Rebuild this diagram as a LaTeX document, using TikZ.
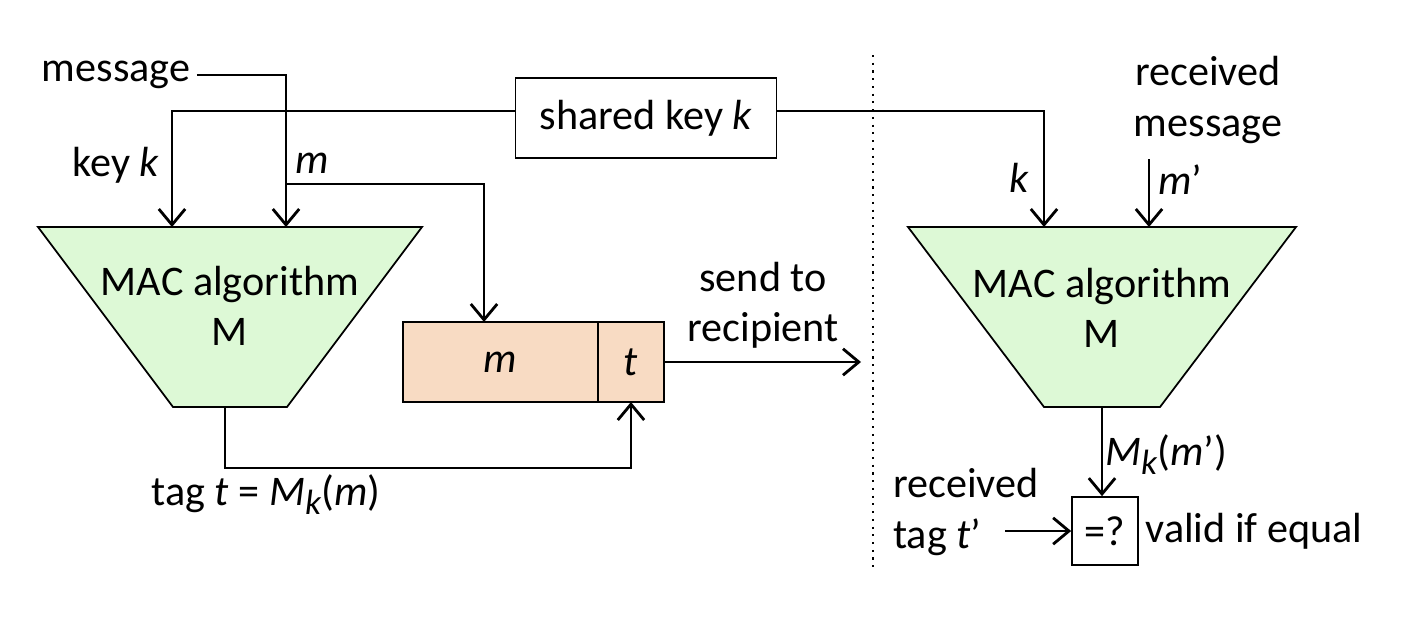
\documentclass[tikz,border=0pt]{standalone}
\usepackage{fontspec}
\setmainfont{Carlito}
\usetikzlibrary{arrows.meta,positioning}
\usepackage{xcolor}
\definecolor{macgreen}{RGB}{221,249,214}
\definecolor{msgpeach}{RGB}{248,219,195}
\newcommand{\subk}{\raisebox{-0.45ex}{\fontsize{20}{20}\selectfont\textit{k}}}

\begin{document}
\begin{tikzpicture}[x=0.02cm,y=-0.02cm,line width=1pt,font=\fontsize{24}{28.5}\selectfont,
  >={Straight Barb[length=9pt,width=15pt,line width=1.6pt]}]
\useasboundingbox (0,0) rectangle (1426,636);
%%%%%%%%%%%%%%%%%%%%%%%%%%%%%%%%%%%%%%%%%%%%%%%%%%%%%%%%%%%%%%
%SENDER/RECEIVER
\coordinate (sepTop) at (873,55);
\coordinate (sepBot) at (873,570);
\draw[line width=1.2pt,dash pattern=on 1.2pt off 3.2pt] (sepTop) -- (sepBot);

%%%%%%%%%%%%%%%%%%%%%%%%%%%%%%%%%%%%%%%%%%%%%%%%%%%%%%%%%%%%%%
%vertex
%vars
\tikzstyle{mac}=[draw,fill=macgreen]
\tikzstyle{keybox}=[draw,minimum width=5.22cm,minimum height=1.6cm]
\tikzstyle{msgbox}=[draw,fill=msgpeach,minimum height=1.6cm,inner sep=0pt,outer sep=0pt]

%left MAC
\draw[mac] (38,227) -- (422,227) -- (287,407) -- (173,407) -- cycle;
\node[align=center] (mac1) at (230,306) {MAC algorithm\\M};
\coordinate (key1in) at (172,227);
\coordinate (msg1in) at (286,227);
\coordinate (mac1out) at (225,407);
\coordinate (msgsplit) at (286,184);
\coordinate (tagbend) at (225,468);

%shared key
\node[keybox] (shared) at (646,118) {shared key \textit{k}};

%message, tag
\node (message) at (116,75) {message};
\node (keyk) at (116,165) {key \textit{k}};
\node (mlabel) at (312,163) {\textit{m}};
\node (tag) at (266,495) {tag \textit{t} = \textit{M}\subk(\textit{m})};

%message box
\node[msgbox,minimum width=3.9cm] (boxm) at (500.5,362) {\textit{m}};
\node[msgbox,minimum width=1.32cm,right=0pt of boxm] (boxt) {\textit{t}};
\coordinate (boxmin) at (484,322);
\node[align=center] (send) at (763,305) {send to\\recipient};
\coordinate (sendend) at (861,362);

%right MAC
\draw[mac] (908,227) -- (1296,227) -- (1160,407) -- (1044,407) -- cycle;
\node[align=center] (mac2) at (1102,308) {MAC algorithm\\M};
\coordinate (key2in) at (1044,227);
\coordinate (msg2top) at (1149,159);
\coordinate (msg2in) at (1149,227);
\coordinate (mac2out) at (1102,407);
\node[align=center] (recvmsg) at (1208,100) {received\\message};
\node (klabel) at (1019,178) {\textit{k}};
\node (mprime) at (1180,180) {\textit{m}’};

%compare
\node[draw,minimum width=1.32cm,minimum height=1.36cm,inner sep=0pt] (cmp) at (1105,531) {=?};
\node (mkm) at (1166,455) {\textit{M}\subk(\textit{m}’)};
\node[align=left] (recvtag) at (966,512) {received\\tag \textit{t}’};
\coordinate (tagin) at (1005,531);
\node[right=0pt of cmp] (valid) {valid if equal};

%%%%%%%%%%%%%%%%%%%%%%%%%%%%%%%%%%%%%%%%%%%%%%%%%%%%%%%%%%%%%%
%ARROWS
%sender
\draw[->] (message.east) -| (msg1in);
\draw[->] ([yshift=0.14cm]shared.west) -| (key1in);
\draw[->] (msgsplit) -| (boxmin);
\draw[->] (mac1out) -- (tagbend) -| (boxt.south);
\draw[->] (boxt.east) -- (sendend);
%receiver
\draw[->] ([yshift=0.14cm]shared.east) -| (key2in);
\draw[->] (msg2top) -- (msg2in);
\draw[->] (mac2out) -- (mac2out |- cmp.north);
\draw[->] (tagin) -- (cmp.west);
\end{tikzpicture}
\end{document}
